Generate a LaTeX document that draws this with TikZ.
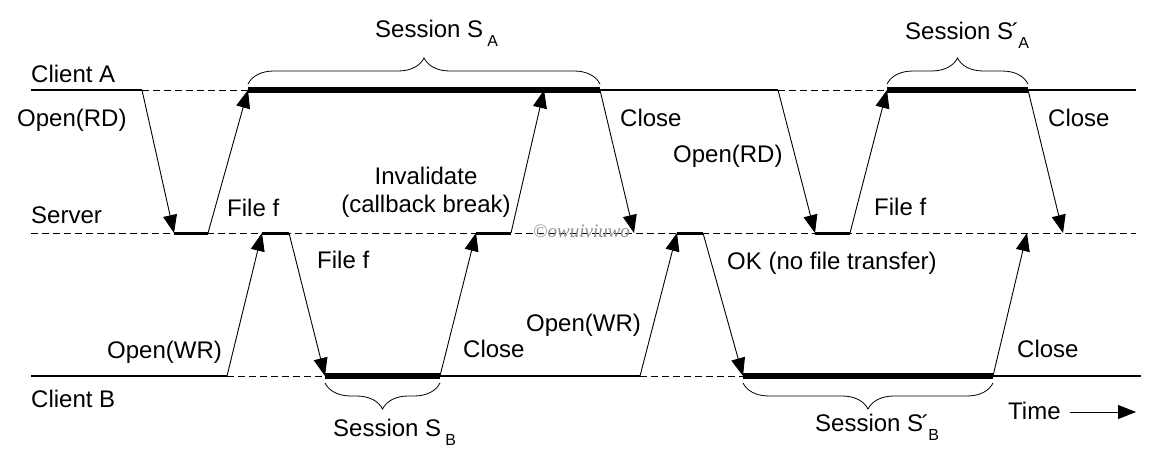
\documentclass[tikz,border=0pt]{standalone}
\usepackage{fontspec}
\setmainfont{Liberation Sans}
\newfontfamily\wmfont{Liberation Serif}
\usetikzlibrary{arrows.meta,decorations.pathreplacing}
\newcommand{\subtxt}[1]{\raisebox{-9pt}{\fontsize{16}{16}\selectfont #1}}
\newcommand{\primed}{\kern-2pt\raisebox{-1pt}{´}\kern-1pt}
\begin{document}
\begin{tikzpicture}[x=1pt,y=-1pt,
  txt/.style={anchor=base west,inner sep=0pt,font=\fontsize{24}{28}\selectfont},
  ctxt/.style={anchor=base,inner sep=0pt,font=\fontsize{24}{28}\selectfont},
  normline/.style={line width=2.4pt},
  thickline/.style={line width=5.5pt},
  srvline/.style={line width=3pt},
  dline/.style={line width=0.9pt,dash pattern=on 7pt off 4pt},
  msg/.style={line width=0.9pt,-{Triangle[length=18pt,width=14pt]}},
  brc/.style={decorate,decoration={brace,amplitude=26pt},line width=0.8pt}]
\useasboundingbox (0,0) rectangle (1159,464);
% client A coordinates
\coordinate (ca0) at (31,90);
\coordinate (ca1) at (142,90);
\coordinate (ca2) at (248,90);
\coordinate (ai) at (544,90);
\coordinate (ca3) at (600,90);
\coordinate (ca4) at (778,90);
\coordinate (ca5) at (887,90);
\coordinate (ca6) at (1028,90);
\coordinate (ca7) at (1136,90);
% server coordinates
\coordinate (s0) at (31,233);
\coordinate (s1) at (174,233);
\coordinate (s2) at (208,233);
\coordinate (s3) at (262,233);
\coordinate (s4) at (289,233);
\coordinate (s5) at (476,233);
\coordinate (s6) at (511,233);
\coordinate (sc1) at (634,233);
\coordinate (s7) at (677,233);
\coordinate (s8) at (703,233);
\coordinate (s9) at (815,233);
\coordinate (s10) at (850,233);
\coordinate (sc2) at (1027,233);
\coordinate (sc3) at (1063,233);
\coordinate (send) at (1136,233);
% client B coordinates
\coordinate (cb0) at (31,376);
\coordinate (cb1) at (227,376);
\coordinate (cb2) at (325,376);
\coordinate (cb3) at (440,376);
\coordinate (cb4) at (640,376);
\coordinate (cb5) at (743,376);
\coordinate (cb6) at (993,376);
\coordinate (cb7) at (1141,376);
% time line
\coordinate (t0) at (1070,412);
\coordinate (t1) at (1136,412);

% client A line
\draw[normline] (ca0) -- (ca1);
\draw[dline] (ca1) -- (ca2);
\draw[thickline] (ca2) -- (ca3);
\draw[normline] (ca3) -- (ca4);
\draw[dline] (ca4) -- (ca5);
\draw[thickline] (ca5) -- (ca6);
\draw[normline] (ca6) -- (ca7);
% server line
\draw[dline] (s0) -- (send);
\draw[srvline] (s1) -- (s2);
\draw[srvline] (s3) -- (s4);
\draw[srvline] (s5) -- (s6);
\draw[srvline] (s7) -- (s8);
\draw[srvline] (s9) -- (s10);
% client B line
\draw[normline] (cb0) -- (cb1);
\draw[dline] (cb1) -- (cb2);
\draw[thickline] (cb2) -- (cb3);
\draw[normline] (cb3) -- (cb4);
\draw[dline] (cb4) -- (cb5);
\draw[thickline] (cb5) -- (cb6);
\draw[normline] (cb6) -- (cb7);

% messages
\draw[msg] (ca1) -- (s1);
\draw[msg] (s2) -- (ca2);
\draw[msg] (cb1) -- (s3);
\draw[msg] (s4) -- (cb2);
\draw[msg] (s6) -- (ai);
\draw[msg] (cb3) -- (s5);
\draw[msg] (ca3) -- (sc1);
\draw[msg] (cb4) -- (s7);
\draw[msg] (s8) -- (cb5);
\draw[msg] (ca4) -- (s9);
\draw[msg] (s10) -- (ca5);
\draw[msg] (cb6) -- (sc2);
\draw[msg] (ca6) -- (sc3);
\draw[msg] (t0) -- (t1);

% braces
\draw[brc] (248,84) -- (600,84);
\draw[brc] (887,84) -- (1028,84);
\draw[brc] (440,383) -- (325,383);
\draw[brc] (993,383) -- (743,383);

% labels
\node[txt] (lca) at (31,82) {Client A};
\node[txt] (lsrv) at (31,223) {Server};
\node[txt] (lcb) at (31,407) {Client B};
\node[txt] (m1) at (17,126) {Open(RD)};
\node[txt] (m2) at (227,216) {File f};
\node[txt] (m3) at (107,358) {Open(WR)};
\node[txt] (m4) at (317,268) {File f};
\node[ctxt] (m5a) at (426,184) {Invalidate};
\node[ctxt] (m5b) at (426,212) {(callback break)};
\node[txt] (m6) at (463,357) {Close};
\node[txt] (m7) at (620,126) {Close};
\node[txt] (m8) at (526,331) {Open(WR)};
\node[txt] (m9) at (727,269) {OK (no file transfer)};
\node[txt] (m10) at (673,162) {Open(RD)};
\node[txt] (m11) at (874,215) {File f};
\node[txt] (m12) at (1017,357) {Close};
\node[txt] (m13) at (1048,126) {Close};
\node[txt] (ltime) at (1008,419) {Time};
\node[txt] (sa) at (375,37) {Session S\kern4pt\subtxt{A}};
\node[txt] (sa2) at (905,39) {Session S\primed\subtxt{A}};
\node[txt] (sb) at (333,436) {Session S\kern4pt\subtxt{B}};
\node[txt] (sb2) at (815,431) {Session S\primed\subtxt{B}};
\node[anchor=base west,inner sep=0pt,text=black!45,font=\wmfont\itshape\fontsize{19}{19}\selectfont] (wm) at (533,237) {©owuiviuwo};
\end{tikzpicture}
\end{document}
